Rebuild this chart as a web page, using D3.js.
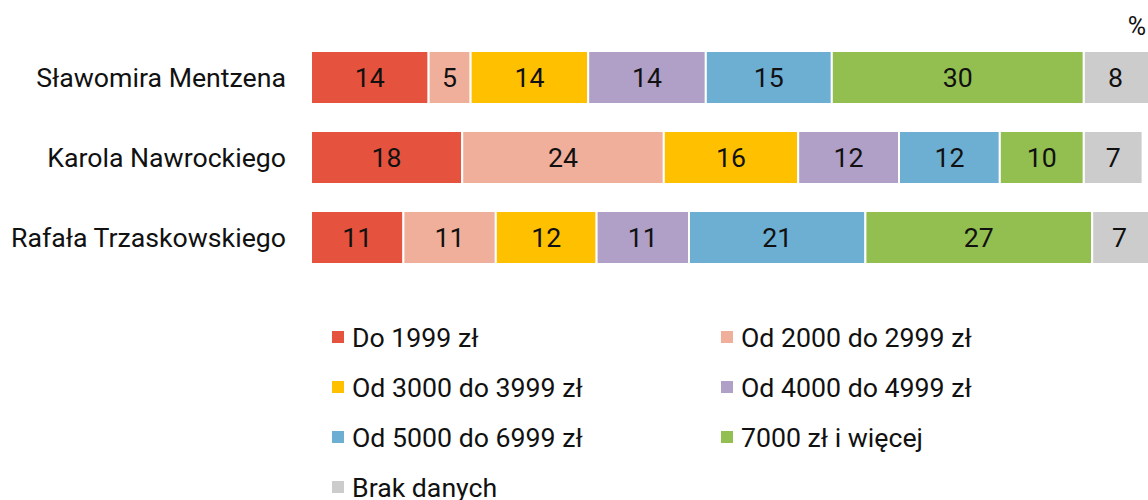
<!DOCTYPE html>
<html>
<head>
<meta charset="utf-8">
<script src="https://cdn.jsdelivr.net/npm/d3@7"></script>
<style>
  body { margin: 0; background: #fff; }
  svg { display: block; font-family: Roboto, "Noto Sans", sans-serif; }
</style>
</head>
<body>
<div id="chart"></div>
<script>
// Data
const candidates = ["Sławomira Mentzena", "Karola Nawrockiego", "Rafała Trzaskowskiego"];
const categories = ["Do 1999 zł", "Od 2000 do 2999 zł", "Od 3000 do 3999 zł", "Od 4000 do 4999 zł",
  "Od 5000 do 6999 zł", "7000 zł i więcej", "Brak danych"];
const mentzen = [14, 5, 14, 14, 15, 30, 8];
const nawrocki = [18, 24, 16, 12, 12, 10, 7];
const trzaskowski = [11, 11, 12, 11, 21, 27, 7];
const colors = ["#e5533f", "#f0af9b", "#ffc000", "#b09fc6", "#6cafd2", "#92bf50", "#cccccc"];

const seriesByRow = [mentzen, nawrocki, trzaskowski];

const width = 1148, height = 500;
const margin = { top: 51, left: 311, right: -3 };
const fontSize = "26.7px";

const svg = d3.select("#chart").append("svg")
  .attr("width", width)
  .attr("height", height);

// Scales
const x = d3.scaleLinear()
  .domain([0, 100])
  .range([margin.left, width - margin.right]);

const y = d3.scaleBand()
  .domain(candidates)
  .range([margin.top, margin.top + 213])
  .paddingInner(0.3375)
  .paddingOuter(0);

// Build stacked rows
const rows = candidates.map((c, i) => {
  let acc = 0;
  return categories.map((cat, j) => {
    const v = seriesByRow[i][j];
    const seg = { candidate: c, cat, idx: j, x0: acc, x1: acc + v, value: v };
    acc += v;
    return seg;
  });
});

const rowG = svg.selectAll(".row")
  .data(rows)
  .enter().append("g")
  .attr("class", "row");

rowG.selectAll("rect")
  .data(d => d)
  .enter().append("rect")
  .attr("x", d => x(d.x0))
  .attr("y", d => y(d.candidate))
  .attr("width", d => x(d.x1) - x(d.x0))
  .attr("height", y.bandwidth())
  .attr("fill", d => colors[d.idx])
  .attr("stroke", "#fff")
  .attr("stroke-width", 2);

// Value labels centred in each segment
rowG.selectAll("text")
  .data(d => d)
  .enter().append("text")
  .attr("x", d => (x(d.x0) + x(d.x1)) / 2 - (d.x1 >= 100 ? 2 : 0))
  .attr("y", d => y(d.candidate) + y.bandwidth() / 2)
  .attr("dy", "0.36em")
  .attr("text-anchor", "middle")
  .attr("fill", "#111")
  .style("font-size", fontSize)
  .text(d => d.value);

// Category labels (y-axis, no line)
svg.selectAll(".ylabel")
  .data(candidates)
  .enter().append("text")
  .attr("class", "ylabel")
  .attr("x", margin.left - 25)
  .attr("y", d => y(d) + y.bandwidth() / 2)
  .attr("dy", "0.36em")
  .attr("text-anchor", "end")
  .attr("fill", "#111")
  .style("font-size", fontSize)
  .text(d => d);

// Percent unit
svg.append("text")
  .attr("x", 1146)
  .attr("y", 35)
  .attr("text-anchor", "end")
  .attr("fill", "#111")
  .style("font-size", "25px")
  .text("%");

// Legend in two columns
const legend = svg.append("g");
const legendItems = legend.selectAll("g")
  .data(categories)
  .enter().append("g")
  .attr("transform", (d, i) => `translate(${i % 2 === 0 ? 332 : 721}, ${337 + Math.floor(i / 2) * 50})`);

legendItems.append("rect")
  .attr("x", 0)
  .attr("y", -6)
  .attr("width", 12)
  .attr("height", 12)
  .attr("fill", (d, i) => colors[i]);

legendItems.append("text")
  .attr("x", 20)
  .attr("y", 0)
  .attr("dy", "0.36em")
  .attr("fill", "#111")
  .style("font-size", fontSize)
  .text(d => d);
</script>
</body>
</html>
